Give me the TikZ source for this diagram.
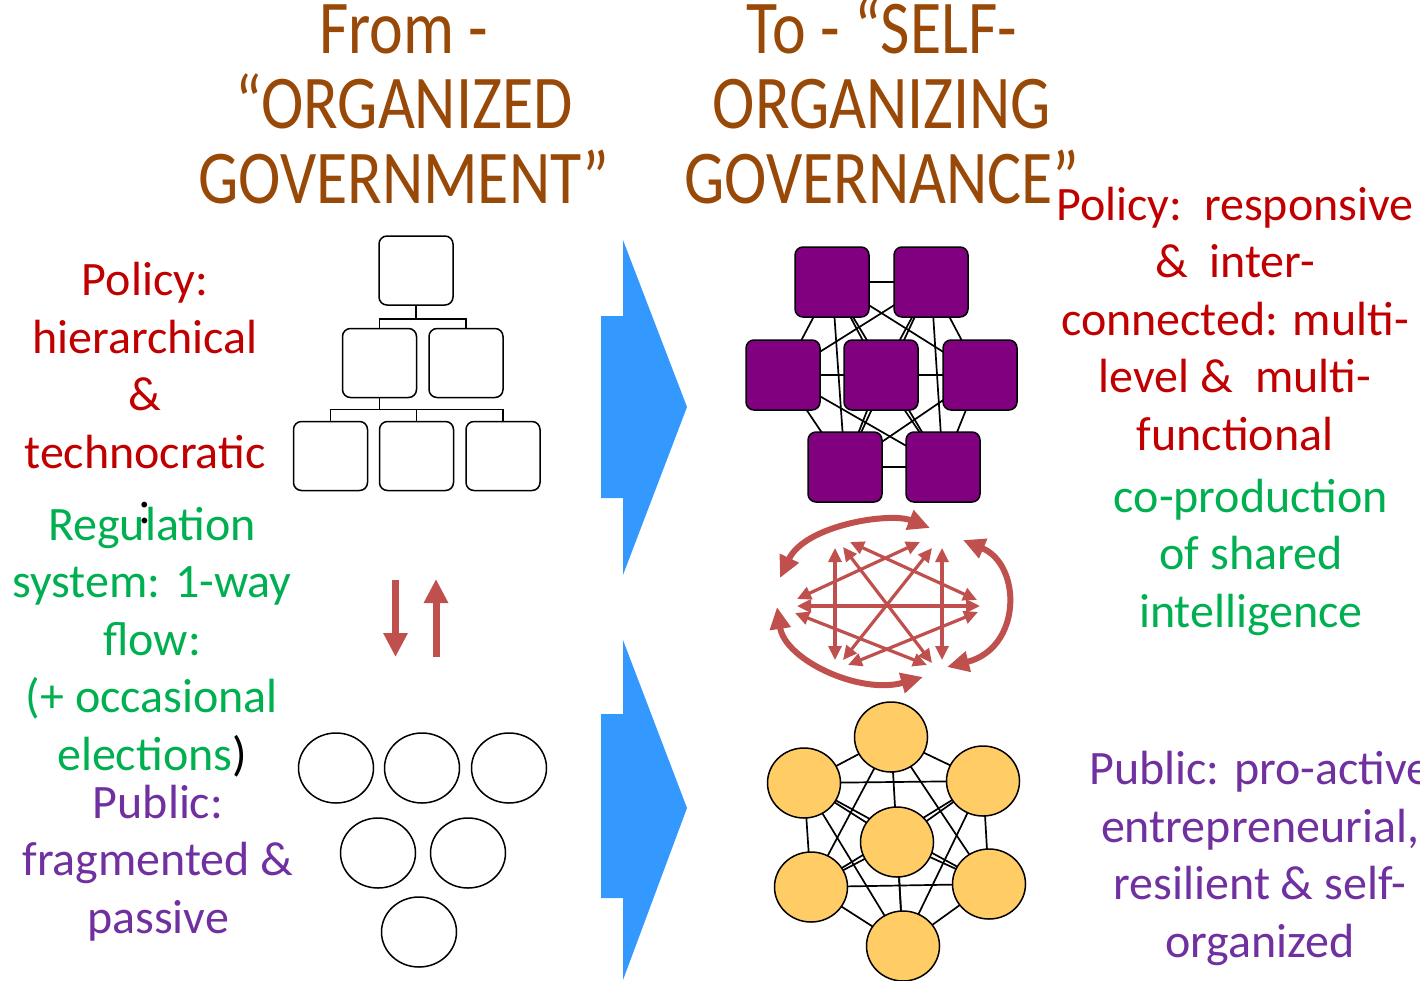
\documentclass[tikz,border=0pt]{standalone}
\usepackage{fontspec}
\setmainfont{Carlito}
\newfontfamily\headfont[FakeStretch=0.84]{Carlito}
\usetikzlibrary{arrows.meta,shapes.geometric,backgrounds}
\definecolor{titlebrown}{HTML}{984807}
\definecolor{polred}{HTML}{C00000}
\definecolor{reggreen}{HTML}{00B050}
\definecolor{pubpurple}{HTML}{7030A0}
\definecolor{flowblue}{HTML}{3399FF}
\definecolor{flowred}{HTML}{C0504D}
\definecolor{netpurple}{HTML}{800080}
\definecolor{netyellow}{HTML}{FFCC66}
\tikzset{
  headtxt/.style={align=center, inner sep=0pt, anchor=base, text=titlebrown, font=\headfont\fontsize{76}{75}\selectfont},
  bodytxt/.style={align=center, inner sep=0pt, anchor=base, font=\fontsize{48}{57.5}\selectfont},
  hbox/.style={draw, rounded corners=8pt, line width=1.5pt, minimum width=74pt, minimum height=69pt, inner sep=0pt},
  pbox/.style={hbox, fill=netpurple, minimum height=70pt},
  wcirc/.style={draw, ellipse, line width=1.5pt, minimum width=75pt, minimum height=70pt, inner sep=0pt},
  ycirc/.style={wcirc, fill=netyellow, minimum width=73pt},
  net/.style={line width=1.7pt},
  starrow/.style={flowred, line width=3.2pt, {Triangle[length=14pt,width=13pt]}-{Triangle[length=14pt,width=13pt]}},
  ringarrow/.style={flowred, line width=6pt, {Triangle[length=22pt,width=20pt]}-{Triangle[length=22pt,width=20pt]}},
  updown/.style={flowred, line width=7pt, -{Triangle[length=24pt,width=23pt]}},
}
\begin{document}
\begin{tikzpicture}[x=1pt,y=-1pt]
\useasboundingbox (0,0) rectangle (1420,980);

% titles
\node[headtxt] (tl0) at (404,203) {From -\\“ORGANIZED\\GOVERNMENT”};
\node[headtxt] (tl1) at (882,203) {To - “SELF-\\ORGANIZING\\GOVERNANCE”};

% left texts
\node[bodytxt, text=polred] (lt0) at (145,468) {Policy:\\hierarchical\\\&\\technocratic};
\node[bodytxt] (lt1) at (145,523) {:};
\node[bodytxt, text=reggreen] (lt2) at (152,770) {Regulation\\system: 1-way\\flow:\\(+ occasional\\elections\textcolor{black}{)}};
\node[bodytxt, text=pubpurple] (lt3) at (158,933) {Public:\\fragmented \&\\passive};

% right texts
\node[bodytxt, text=polred] (rt0) at (1235,450) {Policy:\ \ responsive\\\&\ \ inter-\\connected: multi-\\level \&\ \ multi-\\functional};
\node[bodytxt, text=reggreen] (rt1) at (1251,627) {co-production\\of shared\\intelligence};
\node[bodytxt, text=pubpurple] (rt2) at (1260,957) {Public: pro-active\\entrepreneurial,\\resilient \& self-\\organized};

% hierarchy
\node[hbox] (hb0) at (416,270.5){};
\node[hbox] (hb1) at (379.5,363){};
\node[hbox] (hb2) at (466,363){};
\node[hbox] (hb3) at (330.5,456){};
\node[hbox] (hb4) at (416.5,456){};
\node[hbox] (hb5) at (503,456){};
\draw[line width=1.5pt](hb0.south) -- ++(0,13) coordinate (hj0);
\draw[line width=1.5pt](hb1.north) |- (hj0) -| (hb2.north);
\draw[line width=1.5pt](hb1.south) -- ++(0,11) coordinate (hj1);
\draw[line width=1.5pt](hb3.north) |- (hj1) -| (hb5.north);
\draw[line width=1.5pt](hj1 -| hb4.north) -- (hb4.north);

% fragmented public
\node[wcirc] (wc0) at (336,768){};
\node[wcirc] (wc1) at (422,768){};
\node[wcirc] (wc2) at (509,768){};
\node[wcirc] (wc3) at (378,853){};
\node[wcirc] (wc4) at (468,853){};
\node[wcirc] (wc5) at (419,932){};

% one-way flow
\coordinate (dn0) at (395.5,580);
\coordinate (dn1) at (395.5,657);
\coordinate (up0) at (436,657);
\coordinate (up1) at (436,579);
\draw[updown](dn0) -- (dn1);
\draw[updown](up0) -- (up1);

% big arrows
\fill[flowblue] (601,316) -- (623,316) -- (623,240) -- (687,407) -- (623,575) -- (623,498) -- (601,498) -- cycle;
\fill[flowblue] (601,714) -- (623,714) -- (623,640) -- (687,808) -- (623,980) -- (623,898) -- (601,898) -- cycle;

% self-organizing policy network
\node[pbox] (pb0) at (832,282){};
\node[pbox] (pb1) at (931,282){};
\node[pbox] (pb2) at (783,375){};
\node[pbox] (pb3) at (881,375){};
\node[pbox] (pb4) at (980,375){};
\node[pbox] (pb5) at (845,467){};
\node[pbox] (pb6) at (943,467){};
\begin{scope}[on background layer]
\draw[net](pb0.center) -- (pb1.center) (pb0.center) -- (pb2.center) (pb0.center) -- (pb3.center) (pb0.center) -- (pb4.center) (pb0.center) -- (pb5.center) (pb0.center) -- (pb6.center);
\draw[net](pb1.center) -- (pb2.center) (pb1.center) -- (pb3.center) (pb1.center) -- (pb4.center) (pb1.center) -- (pb5.center) (pb1.center) -- (pb6.center);
\draw[net](pb2.center) -- (pb3.center) (pb2.center) -- (pb4.center) (pb2.center) -- (pb5.center) (pb2.center) -- (pb6.center);
\draw[net](pb3.center) -- (pb4.center) (pb3.center) -- (pb5.center) (pb3.center) -- (pb6.center);
\draw[net](pb4.center) -- (pb5.center) (pb4.center) -- (pb6.center);
\draw[net](pb5.center) -- (pb6.center);
\end{scope}

% shared intelligence
\coordinate (sl0) at (797,599);
\coordinate (sl1) at (797,606);
\coordinate (sl2) at (795,613);
\coordinate (sr0) at (977,600);
\coordinate (sr1) at (980,606);
\coordinate (sr2) at (978,612);
\coordinate (st0) at (835,548);
\coordinate (st1) at (843,547);
\coordinate (st2) at (850,542);
\coordinate (st3) at (920,542);
\coordinate (st4) at (932,548);
\coordinate (st5) at (942,548);
\coordinate (sb0) at (835,660);
\coordinate (sb1) at (843,660);
\coordinate (sb2) at (848,665);
\coordinate (sb3) at (927,665);
\coordinate (sb4) at (932,663);
\coordinate (sb5) at (942,660);
\draw[starrow](st0) -- (sb0);
\draw[starrow](st5) -- (sb5);
\draw[starrow](sl1) -- (sr1);
\draw[starrow](sl0) -- (st3);
\draw[starrow](sl2) -- (sb3);
\draw[starrow](sr0) -- (st2);
\draw[starrow](sr2) -- (sb2);
\draw[starrow](st1) -- (sb4);
\draw[starrow](st4) -- (sb1);
\coordinate (ra0) at (780,578);
\coordinate (ra1) at (930,528);
\coordinate (ra2) at (963,540);
\coordinate (ra3) at (947,667);
\coordinate (ra4) at (777,607);
\coordinate (ra5) at (923,677);
\draw[ringarrow](ra0) .. controls (805,525) and (890,512) .. (ra1);
\draw[ringarrow](ra2) .. controls (1022,565) and (1022,648) .. (ra3);
\draw[ringarrow](ra4) .. controls (785,660) and (860,695) .. (ra5);

% self-organized public
\node[ycirc] (yc0) at (891,737){};
\node[ycirc] (yc1) at (804,783){};
\node[ycirc] (yc2) at (983,781){};
\node[ycirc] (yc3) at (897,842){};
\node[ycirc] (yc4) at (811,887){};
\node[ycirc] (yc5) at (989,884){};
\node[ycirc] (yc6) at (903,946){};
\begin{scope}[on background layer]
\draw[net](yc0.center) -- (yc1.center) (yc0.center) -- (yc2.center) (yc0.center) -- (yc3.center) (yc0.center) -- (yc4.center) (yc0.center) -- (yc5.center) (yc0.center) -- (yc6.center);
\draw[net](yc1.center) -- (yc2.center) (yc1.center) -- (yc3.center) (yc1.center) -- (yc4.center) (yc1.center) -- (yc5.center) (yc1.center) -- (yc6.center);
\draw[net](yc2.center) -- (yc3.center) (yc2.center) -- (yc4.center) (yc2.center) -- (yc5.center) (yc2.center) -- (yc6.center);
\draw[net](yc3.center) -- (yc4.center) (yc3.center) -- (yc5.center) (yc3.center) -- (yc6.center);
\draw[net](yc4.center) -- (yc5.center) (yc4.center) -- (yc6.center);
\draw[net](yc5.center) -- (yc6.center);
\end{scope}
\end{tikzpicture}
\end{document}
